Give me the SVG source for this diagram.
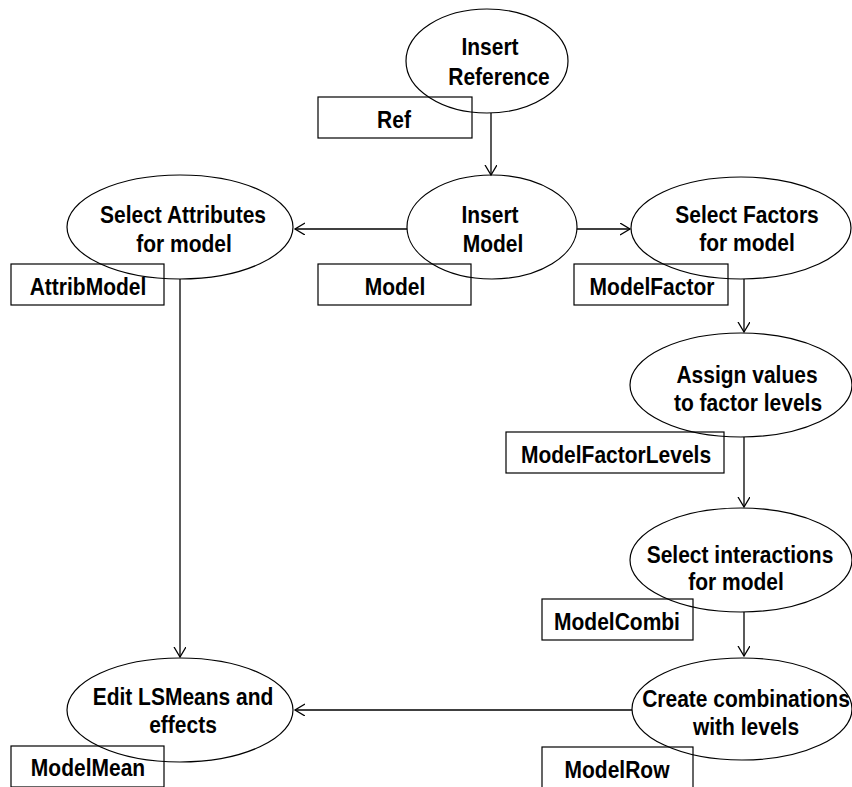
<svg xmlns="http://www.w3.org/2000/svg" width="852" height="787" viewBox="0 0 852 787">
<style>
  .shape { fill: none; stroke: #000; stroke-width: 1.2; }
  .conn { fill: none; stroke: #000; stroke-width: 1.3; marker-end: url(#arr); }
  text { font-family: "Liberation Sans", Arial, sans-serif; font-weight: bold; font-size: 21px; text-anchor: middle; fill: #000; }
</style>
<defs>
  <marker id="arr" markerUnits="userSpaceOnUse" markerWidth="12" markerHeight="14" refX="10" refY="6" orient="auto">
    <path d="M0,0 L10,6 L0,12" fill="none" stroke="#000" stroke-width="1.3"/>
  </marker>
</defs>
<rect width="852" height="787" fill="#fff"/>
<g id="connectors">
  <line class="conn" x1="491" y1="113" x2="491" y2="175"/>
  <line class="conn" x1="407" y1="229" x2="295" y2="229"/>
  <line class="conn" x1="577" y1="229" x2="630" y2="229"/>
  <line class="conn" x1="180" y1="279" x2="180" y2="657"/>
  <line class="conn" x1="744" y1="279" x2="744" y2="332"/>
  <line class="conn" x1="744" y1="437" x2="744" y2="507"/>
  <line class="conn" x1="744" y1="612" x2="744" y2="656"/>
  <line class="conn" x1="632" y1="710" x2="295" y2="710"/>
</g>
<g id="insert-reference">
  <ellipse class="shape" cx="487" cy="61" rx="81" ry="52"/>
  <text transform="translate(490 55) scale(1 1.1)">Insert</text>
  <text transform="translate(499 85) scale(1 1.1)">Reference</text>
</g>
<g id="ref">
  <rect class="shape" x="318" y="97" width="154" height="41"/>
  <text transform="translate(394 128) scale(1 1.1)">Ref</text>
</g>
<g id="insert-model">
  <ellipse class="shape" cx="492" cy="227" rx="85" ry="52"/>
  <text transform="translate(490 223) scale(1 1.1)">Insert</text>
  <text transform="translate(493 252) scale(1 1.1)">Model</text>
</g>
<g id="model">
  <rect class="shape" x="318" y="264" width="153" height="41"/>
  <text transform="translate(395 295) scale(1 1.1)">Model</text>
</g>
<g id="select-attributes">
  <ellipse class="shape" cx="180" cy="227" rx="113" ry="52"/>
  <text transform="translate(183 223) scale(1 1.1)">Select Attributes</text>
  <text transform="translate(184 252) scale(1 1.1)">for model</text>
</g>
<g id="attribmodel">
  <rect class="shape" x="11" y="264" width="153" height="41"/>
  <text transform="translate(88 295) scale(1 1.1)">AttribModel</text>
</g>
<g id="select-factors">
  <ellipse class="shape" cx="741" cy="228" rx="110" ry="51"/>
  <text transform="translate(747 223) scale(1 1.1)">Select Factors</text>
  <text transform="translate(747 251) scale(1 1.1)">for model</text>
</g>
<g id="modelfactor">
  <rect class="shape" x="574" y="264" width="154" height="41"/>
  <text transform="translate(652 295) scale(1 1.1)">ModelFactor</text>
</g>
<g id="assign-values">
  <ellipse class="shape" cx="741" cy="385" rx="111" ry="52"/>
  <text transform="translate(747 383) scale(1 1.1)">Assign values</text>
  <text transform="translate(748 411) scale(1 1.1)">to factor levels</text>
</g>
<g id="modelfactorlevels">
  <rect class="shape" x="506" y="432" width="218" height="41"/>
  <text transform="translate(616 463) scale(1 1.1)">ModelFactorLevels</text>
</g>
<g id="select-interactions">
  <ellipse class="shape" cx="741" cy="560" rx="111" ry="52"/>
  <text transform="translate(740 563) scale(1 1.1)">Select interactions</text>
  <text transform="translate(736 590) scale(1 1.1)">for model</text>
</g>
<g id="modelcombi">
  <rect class="shape" x="542" y="599" width="151" height="41"/>
  <text transform="translate(617 630) scale(1 1.1)">ModelCombi</text>
</g>
<g id="create-combinations">
  <ellipse class="shape" cx="742" cy="709" rx="110" ry="51"/>
  <text transform="translate(746 707) scale(1 1.1)">Create combinations</text>
  <text transform="translate(746 735) scale(1 1.1)">with levels</text>
</g>
<g id="modelrow">
  <rect class="shape" x="542" y="747" width="151" height="41"/>
  <text transform="translate(617 778) scale(1 1.1)">ModelRow</text>
</g>
<g id="edit-lsmeans">
  <ellipse class="shape" cx="180" cy="710" rx="113" ry="52"/>
  <text transform="translate(183 705) scale(1 1.1)">Edit LSMeans and</text>
  <text transform="translate(183 733) scale(1 1.1)">effects</text>
</g>
<g id="modelmean">
  <rect class="shape" x="11" y="746" width="153" height="41"/>
  <text transform="translate(88 776) scale(1 1.1)">ModelMean</text>
</g>
</svg>
